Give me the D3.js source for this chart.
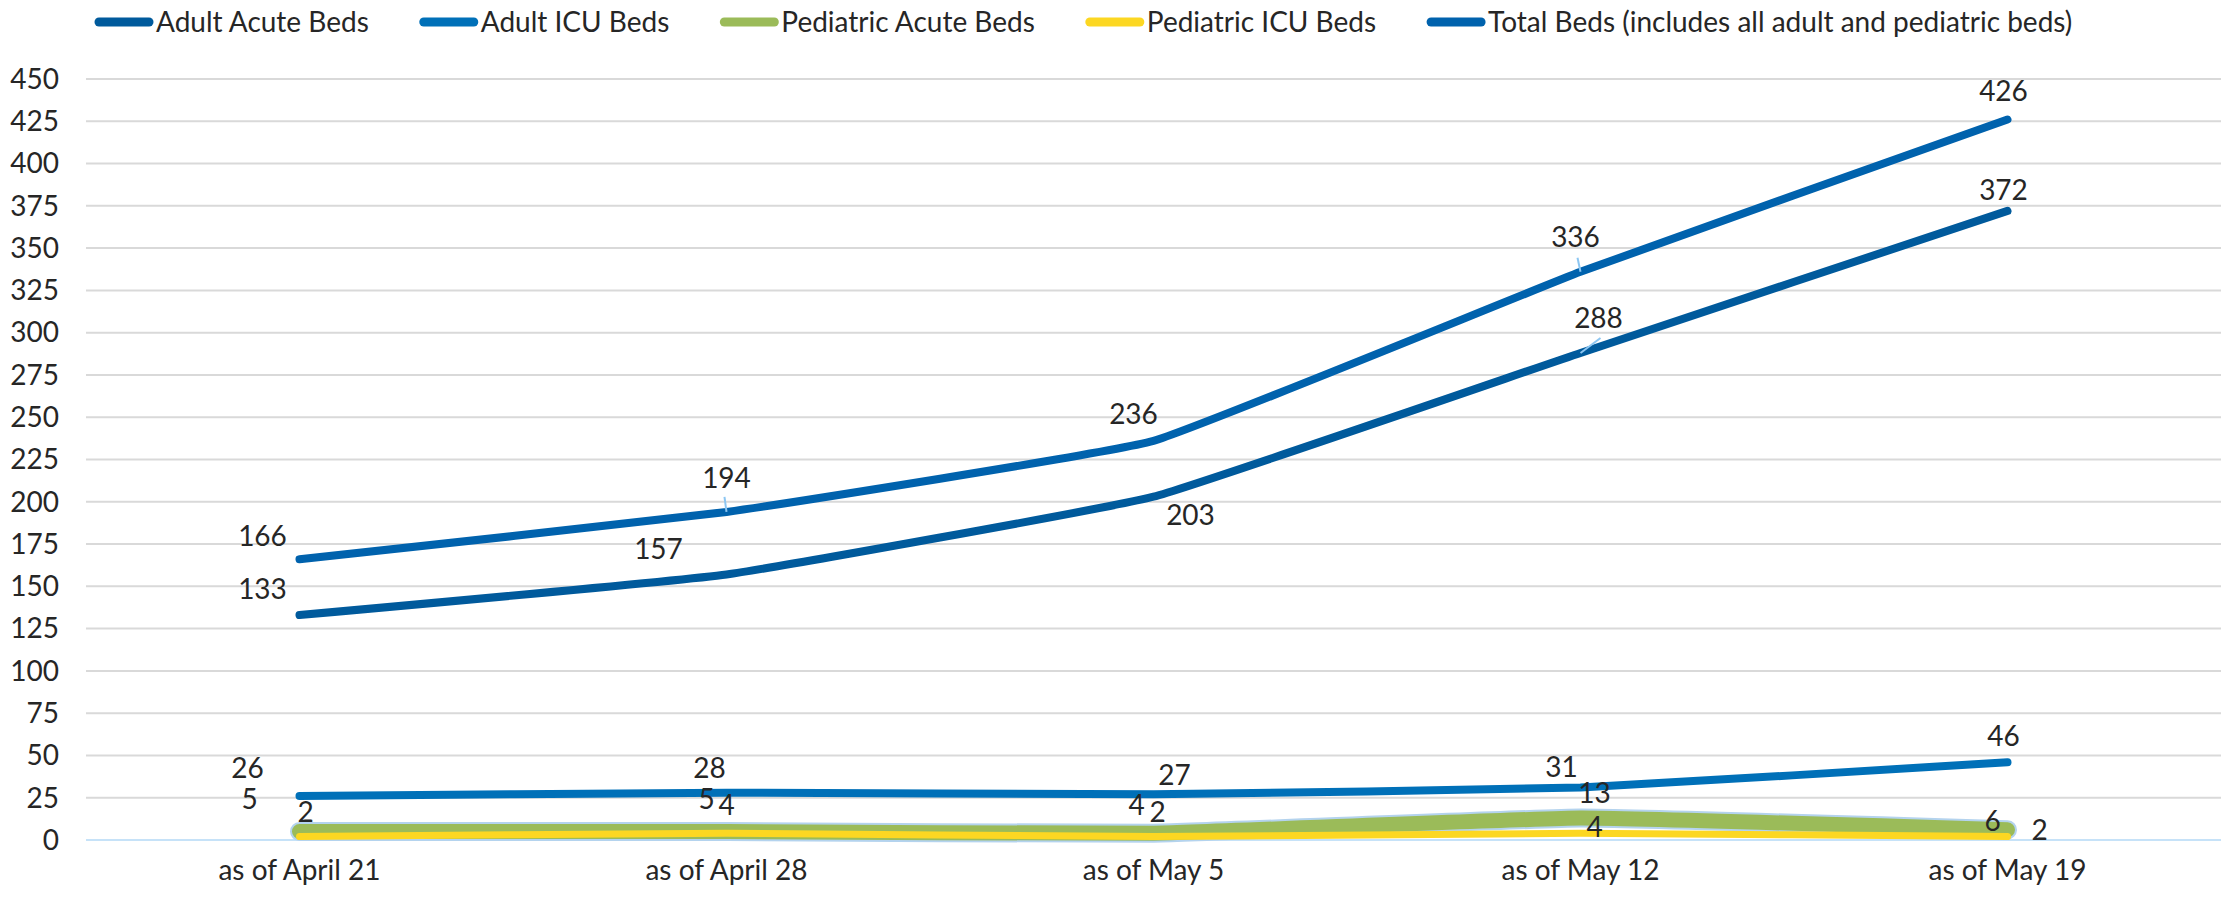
<!DOCTYPE html>
<html>
<head>
<meta charset="utf-8">
<script src="https://cdn.jsdelivr.net/npm/d3@7"></script>
<style>
  body { margin: 0; background: #fff; }
  text { font-family: Lato, "Open Sans", sans-serif; fill: #262626; }
</style>
</head>
<body>
<script>
var categories = ["as of April 21", "as of April 28", "as of May 5", "as of May 12", "as of May 19"];
var adultAcute = [133, 157, 203, 288, 372];
var adultICU = [26, 28, 27, 31, 46];
var pedAcute = [5, 5, 4, 13, 6];
var pedICU = [2, 4, 2, 4, 2];
var totalBeds = [166, 194, 236, 336, 426];
var yTicks = d3.range(0, 451, 25);

// series drawn bottom to top (legend order kept separately)
var series = [
  {name: "Pediatric Acute Beds", values: pedAcute, color: "#9bbb59", width: 15, outline: true, labelOff: [[-50, -32], [-20, -32], [-17, -28], [14, -25], [-15, -9]]},
  {name: "Pediatric ICU Beds", values: pedICU, color: "#fcd722", width: 7, labelOff: [[6, -24], [0, -28], [4, -24], [14, -6], [32, -6]]},
  {name: "Adult ICU Beds", values: adultICU, color: "#0070b8", width: 8, labelOff: [[-52, -28], [-17, -24], [21, -19], [-19, -20], [-4, -26]]},
  {name: "Adult Acute Beds", values: adultAcute, color: "#005a9c", width: 8, labelOff: [[-37, -26], [-68, -25], [37, 18], [18, -35], [-4, -21]]},
  {name: "Total Beds (includes all adult and pediatric beds)", values: totalBeds, color: "#0062ad", width: 8, labelOff: [[-37, -23], [0, -34], [-20, -27], [-5, -35], [-4, -28]]}
];
var legendOrder = ["Adult Acute Beds", "Adult ICU Beds", "Pediatric Acute Beds", "Pediatric ICU Beds", "Total Beds (includes all adult and pediatric beds)"];
var legendColors = {"Adult Acute Beds": "#005a9c", "Adult ICU Beds": "#0070b8", "Pediatric Acute Beds": "#9bbb59", "Pediatric ICU Beds": "#fcd722", "Total Beds (includes all adult and pediatric beds)": "#0062ad"};

var width = 2229, height = 900;
var margin = {left: 86, right: 8, top: 79, bottom: 60};

var svg = d3.select("body").append("svg")
    .attr("width", width)
    .attr("height", height);

var x = d3.scalePoint()
    .domain(categories)
    .range([margin.left, width - margin.right])
    .padding(0.5);

var y = d3.scaleLinear()
    .domain([0, 450])
    .range([height - margin.bottom, margin.top]);

// gridlines
svg.append("g")
    .selectAll("line")
    .data(yTicks)
    .enter().append("line")
    .attr("x1", margin.left)
    .attr("x2", width - margin.right)
    .attr("y1", function (d) { return y(d); })
    .attr("y2", function (d) { return y(d); })
    .attr("stroke", function (d) { return d === 0 ? "#c6e2f8" : "#d9d9d9"; })
    .attr("stroke-width", 2);

// y axis labels
svg.append("g")
    .selectAll("text")
    .data(yTicks)
    .enter().append("text")
    .attr("x", 59)
    .attr("y", function (d) { return y(d); })
    .attr("dy", "0.35em")
    .attr("text-anchor", "end")
    .style("font-size", "28px")
    .text(function (d) { return d; });

// x axis labels
svg.append("g")
    .selectAll("text")
    .data(categories)
    .enter().append("text")
    .attr("x", function (d) { return x(d); })
    .attr("y", 880)
    .attr("text-anchor", "middle")
    .style("font-size", "28px")
    .text(function (d) { return d; });

var line = d3.line()
    .x(function (d, i) { return x(categories[i]); })
    .y(function (d) { return y(d); })
    .curve(d3.curveCardinal.tension(0.7));

var lines = svg.append("g");
series.forEach(function (s) {
    if (s.outline) {
        lines.append("path")
            .attr("d", line(s.values))
            .attr("fill", "none")
            .attr("stroke", "#b4d3ee")
            .attr("stroke-width", s.width + 4)
            .attr("stroke-linecap", "round")
            .attr("stroke-linejoin", "round");
    }
    lines.append("path")
        .attr("d", line(s.values))
        .attr("fill", "none")
        .attr("stroke", s.color)
        .attr("stroke-width", s.width)
        .attr("stroke-linecap", "round")
        .attr("stroke-linejoin", "round");
});

// leader lines for a few labels
var leaders = [
    {v: totalBeds[1], i: 1, dx1: -2, dy1: -15, dx2: 0, dy2: 0},
    {v: totalBeds[3], i: 3, dx1: -3, dy1: -14, dx2: 0, dy2: 0},
    {v: adultAcute[3], i: 3, dx1: 20, dy1: -15, dx2: 0, dy2: 0}
];
svg.append("g")
    .selectAll("line")
    .data(leaders)
    .enter().append("line")
    .attr("x1", function (d) { return x(categories[d.i]) + d.dx1; })
    .attr("y1", function (d) { return y(d.v) + d.dy1; })
    .attr("x2", function (d) { return x(categories[d.i]) + d.dx2; })
    .attr("y2", function (d) { return y(d.v) + d.dy2; })
    .attr("stroke", "#8cc6f2")
    .attr("stroke-width", 2);

// data labels
var labels = svg.append("g");
series.forEach(function (s) {
    labels.selectAll(null)
        .data(s.values)
        .enter().append("text")
        .attr("x", function (d, i) { return x(categories[i]) + s.labelOff[i][0]; })
        .attr("y", function (d, i) { return y(d) + s.labelOff[i][1]; })
        .attr("dy", "0.35em")
        .attr("text-anchor", "middle")
        .style("font-size", "28px")
        .text(function (d) { return d; });
});

// legend
var legend = svg.append("g");
var lx = 95;
legendOrder.forEach(function (name) {
    var g = legend.append("g").attr("transform", "translate(" + lx + ",22)");
    g.append("line")
        .attr("x1", 4).attr("x2", 54)
        .attr("stroke", legendColors[name])
        .attr("stroke-width", 9)
        .attr("stroke-linecap", "round");
    var t = g.append("text")
        .attr("x", 61)
        .attr("dy", "0.35em")
        .style("font-size", "28px")
        .text(name);
    lx += 61 + t.node().getComputedTextLength() + 51;
});
</script>
</body>
</html>
